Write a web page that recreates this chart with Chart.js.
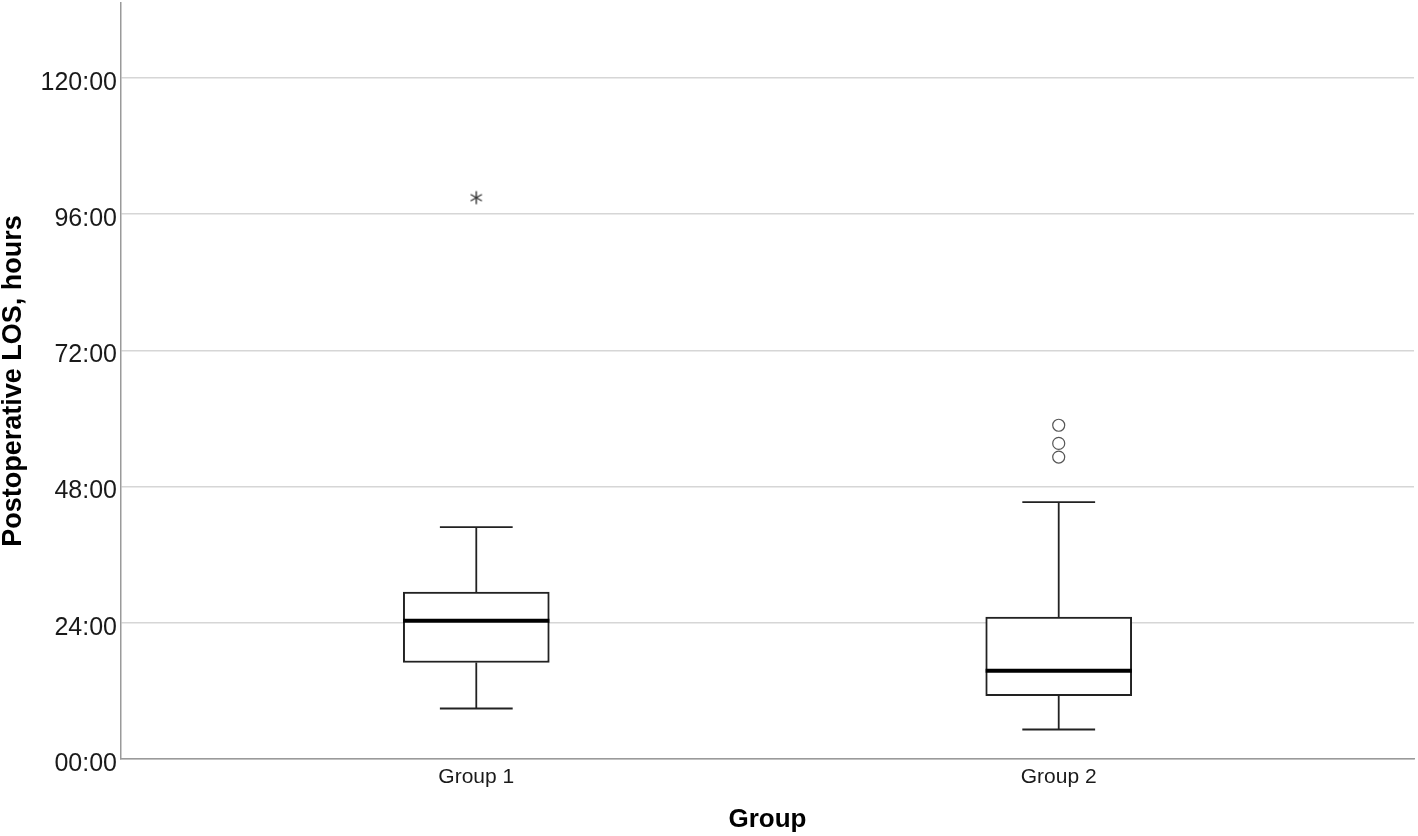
<!DOCTYPE html>
<html>
<head>
<meta charset="utf-8">
<script src="https://cdn.jsdelivr.net/npm/chart.js@4.4.1/dist/chart.umd.min.js"></script>
<style>
  html, body { margin: 0; padding: 0; background: #fff; }
  #wrap { width: 1418px; height: 836px; }
</style>
</head>
<body>
<div id="wrap"><canvas id="chart" width="1418" height="836"></canvas></div>
<script>
// data (hours)
const groupLabels = ["Group 1", "Group 2"];
const groupPos = [1, 2];
const whiskerLow = [8.9, 5.2];
const boxQ1 = [17.0, 11.15];
const medians = [24.35, 15.55];
const boxQ3 = [29.4, 25.0];
const whiskerHigh = [40.85, 45.25];
const outlierX = [2, 2, 2];
const outlierY = [58.8, 55.6, 53.2];
const extremeX = [1];
const extremeY = [98.9];
const yTicks = [0, 24, 48, 72, 96, 120];
const yMax = 133.2;

const boxHalf = 0.1255;
const capHalf = 0.0625;
const FONT = "'Liberation Sans', Arial, sans-serif";

function fmtHours(v) {
    return String(v).padStart(2, "0") + ":00";
}

// build segment lists (null y breaks the line)
const whiskerData = [];
const medianData = [];
groupPos.forEach((x, i) => {
    whiskerData.push({ x: x, y: boxQ3[i] }, { x: x, y: whiskerHigh[i] }, { x: x, y: null });
    whiskerData.push({ x: x, y: boxQ1[i] }, { x: x, y: whiskerLow[i] }, { x: x, y: null });
    whiskerData.push({ x: x - capHalf, y: whiskerHigh[i] }, { x: x + capHalf, y: whiskerHigh[i] }, { x: x, y: null });
    whiskerData.push({ x: x - capHalf, y: whiskerLow[i] }, { x: x + capHalf, y: whiskerLow[i] }, { x: x, y: null });
    medianData.push({ x: x - boxHalf, y: medians[i] }, { x: x + boxHalf, y: medians[i] }, { x: x, y: null });
});

// asterisk marker for extreme values
function makeAsterisk() {
    const c = document.createElement("canvas");
    c.width = 16;
    c.height = 16;
    const g = c.getContext("2d");
    g.strokeStyle = "#333";
    g.lineWidth = 1.4;
    const r = 6.5;
    for (let k = 0; k < 3; k++) {
        const a = Math.PI / 2 + k * Math.PI / 3;
        g.beginPath();
        g.moveTo(8 + r * Math.cos(a), 8 - r * Math.sin(a));
        g.lineTo(8 - r * Math.cos(a), 8 + r * Math.sin(a));
        g.stroke();
    }
    return c;
}

new Chart(document.getElementById("chart"), {
    type: "bar",
    data: {
        datasets: [
            {
                type: "line",
                data: medianData,
                borderColor: "#000",
                borderWidth: 4,
                pointRadius: 0,
                spanGaps: false,
                order: 0,
            },
            {
                type: "scatter",
                data: outlierX.map((x, i) => ({ x: x, y: outlierY[i] })),
                pointStyle: "circle",
                pointRadius: 6,
                backgroundColor: "#fff",
                borderColor: "#555",
                borderWidth: 1.2,
                order: 1,
            },
            {
                type: "scatter",
                data: extremeX.map((x, i) => ({ x: x, y: extremeY[i] })),
                pointStyle: makeAsterisk(),
                order: 1,
            },
            {
                type: "line",
                data: whiskerData,
                borderColor: "#222",
                borderWidth: 1.8,
                pointRadius: 0,
                spanGaps: false,
                order: 2,
            },
            {
                type: "bar",
                data: groupPos.map((x, i) => ({ x: x, y: [boxQ1[i], boxQ3[i]] })),
                backgroundColor: "#fff",
                borderColor: "#222",
                borderWidth: 2,
                borderSkipped: false,
                barThickness: 146,
                order: 3,
            },
        ],
    },
    options: {
        responsive: false,
        animation: false,
        layout: { autoPadding: false, padding: { top: 3, right: 4, left: 0, bottom: 0 } },
        plugins: {
            legend: { display: false },
            tooltip: { enabled: false },
        },
        scales: {
            x: {
                type: "linear",
                offset: false,
                min: 0.39,
                max: 2.61,
                afterBuildTicks: scale => {
                    scale.ticks = groupPos.map(v => ({ value: v }));
                },
                afterFit: scale => {
                    scale.height = 77;
                    scale.paddingLeft = 0;
                    scale.paddingRight = 0;
                },
                grid: { display: false, drawTicks: false, offset: false },
                border: { display: true, color: "#9a9a9a", width: 1.5 },
                ticks: {
                    padding: 6,
                    color: "#1a1a1a",
                    font: { family: FONT, size: 21 },
                    callback: value => groupLabels[groupPos.indexOf(value)] || "",
                },
                title: {
                    display: true,
                    text: "Group",
                    color: "#000",
                    font: { family: FONT, size: 26, weight: "bold", lineHeight: 1 },
                    padding: { top: 0, bottom: 3 },
                },
            },
            y: {
                type: "linear",
                min: 0,
                max: yMax,
                afterBuildTicks: scale => {
                    scale.ticks = yTicks.map(v => ({ value: v }));
                },
                afterFit: scale => {
                    scale.width = 121;
                    scale.paddingTop = 0;
                    scale.paddingBottom = 0;
                },
                grid: { color: "#d6d6d6", lineWidth: 1.5, drawTicks: false },
                border: { display: true, color: "#9a9a9a", width: 1.5 },
                ticks: {
                    padding: 4,
                    labelOffset: 5,
                    color: "#1a1a1a",
                    font: { family: FONT, size: 25 },
                    callback: value => fmtHours(value),
                },
                title: {
                    display: true,
                    text: "Postoperative LOS, hours",
                    color: "#000",
                    font: { family: FONT, size: 27, weight: "bold", lineHeight: 1 },
                    padding: { top: 0, bottom: 0 },
                },
            },
        },
    },
});
</script>
</body>
</html>
